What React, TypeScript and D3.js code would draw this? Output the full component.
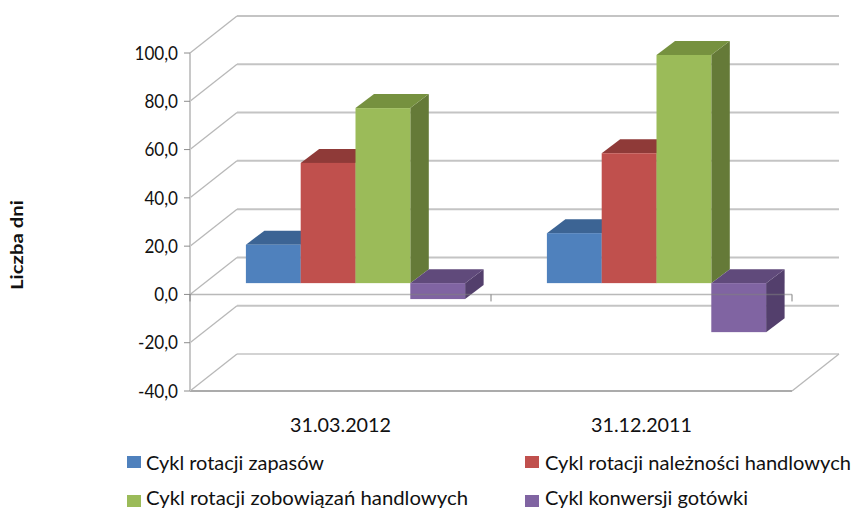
import React from "react";
import * as d3 from "d3";

const categories = ["31.03.2012", "31.12.2011"];
const seriesNames = [
  "Cykl rotacji zapasów",
  "Cykl rotacji należności handlowych",
  "Cykl rotacji zobowiązań handlowych",
  "Cykl konwersji gotówki",
];
const inventoryCycle = [15.9, 20.7];
const receivablesCycle = [49.8, 53.8];
const payablesCycle = [72.5, 94.5];
const cashCycle = [-6.6, -20.3];
const seriesValues = [inventoryCycle, receivablesCycle, payablesCycle, cashCycle];
const yTicks = [100, 80, 60, 40, 20, 0, -20, -40];

// front, top and side faces of each series
const faceColors = [
  { front: "#4f81bd", top: "#3c6494", side: "#3a5f8c" },
  { front: "#c0504d", top: "#8f3a38", side: "#8a3735" },
  { front: "#9bbb59", top: "#76913f", side: "#657a38" },
  { front: "#8064a2", top: "#604a7b", side: "#533f6c" },
];

const FONT = "Lato, 'Open Sans', sans-serif";
const TEXT = "#111";

// the plot box, with an oblique offset for the back wall
const y = d3.scaleLinear().domain([-40, 100]).range([391, 53]);
const x = d3.scaleBand().domain(categories).range([190, 792]);
const wallDx = 47;
const wallDy = -37;
// bars stand part of the way into the box
const barDx = 15;
const barDy = -11.3;
const barDepthDx = 18.5;
const barDepthDy = -14;
const barWidth = 54.8;

const poly = (pts: [number, number][]) => pts.map((p) => p.join(",")).join(" ");

function Bar({ cat, i, value }: { cat: string; i: number; value: number }) {
  const groupLeft = x(cat)! + x.bandwidth() / 2 - (barWidth * seriesNames.length) / 2 + barDx;
  const x0 = groupLeft + i * barWidth;
  const x1 = x0 + barWidth;
  const top = Math.min(y(value), y(0)) + barDy;
  const bottom = Math.max(y(value), y(0)) + barDy;
  const c = faceColors[i];
  return (
    <g>
      <polygon
        points={poly([
          [x1, top],
          [x1 + barDepthDx, top + barDepthDy],
          [x1 + barDepthDx, bottom + barDepthDy],
          [x1, bottom],
        ])}
        fill={c.side}
      />
      <polygon
        points={poly([
          [x0, top],
          [x0 + barDepthDx, top + barDepthDy],
          [x1 + barDepthDx, top + barDepthDy],
          [x1, top],
        ])}
        fill={c.top}
      />
      <rect x={x0} y={top} width={barWidth} height={bottom - top} fill={c.front} />
    </g>
  );
}

const legendLayout = [
  { sx: 127, tx: 146, base: 470, sy: 456, len: 178 },
  { sx: 525, tx: 545, base: 470, sy: 456, len: 306 },
  { sx: 127, tx: 146, base: 505, sy: 495, len: 322 },
  { sx: 525, tx: 545, base: 505, sy: 495, len: 203 },
];

export default function App() {
  const [xL, xR] = x.range();
  return (
    <svg
      width={853}
      height={510}
      style={{ position: "absolute", left: 0, top: 0, display: "block", background: "#fff" }}
      fontFamily={FONT}
    >
      {/* back wall gridlines and their diagonals to the axis */}
      {yTicks.map((t) => (
        <g key={t} fill="none">
          <line x1={xL + wallDx} x2={xR + wallDx} y1={y(t) + wallDy} y2={y(t) + wallDy} stroke="#c4c4c4" strokeWidth={t === -40 ? 1.6 : 2} />
          <line x1={xL} x2={xL + wallDx} y1={y(t)} y2={y(t) + wallDy} stroke="#b8b8b8" strokeWidth={1.3} />
        </g>
      ))}
      {/* floor edges */}
      <line x1={xL} x2={xR} y1={y(-40)} y2={y(-40)} stroke="#ababab" strokeWidth={1.8} />
      <line x1={xR} x2={xR + wallDx} y1={y(-40)} y2={y(-40) + wallDy} stroke="#b8b8b8" strokeWidth={1.3} />
      {/* value axis */}
      <line x1={xL} x2={xL} y1={y(100)} y2={y(-40)} stroke="#c8c8c8" strokeWidth={2} />
      {yTicks.map((t) => (
        <g key={t}>
          <line x1={xL - 6} x2={xL} y1={y(t)} y2={y(t)} stroke="#8c8c8c" strokeWidth={1} />
          <text transform={`translate(178,${y(t)}) scale(0.9,1)`} dy="0.35em" textAnchor="end" fontSize={19} fill={TEXT}>
            {d3.format(".1f")(t).replace(".", ",").replace("\u2212", "-")}
          </text>
        </g>
      ))}
      {/* bars, left to right so each one covers its neighbour's side */}
      {categories.map((cat, ci) => (
        <g key={cat}>
          {seriesValues.map((vals, i) => (
            <Bar key={i} cat={cat} i={i} value={vals[ci]} />
          ))}
        </g>
      ))}
      {/* zero line and category ticks */}
      <line x1={xL} x2={xR} y1={y(0)} y2={y(0)} stroke="#808080" strokeOpacity={0.55} strokeWidth={1.6} />
      {[xL, xL + x.bandwidth(), xR].map((px) => (
        <line key={px} x1={px} x2={px} y1={y(0)} y2={y(0) + 7} stroke="#808080" strokeWidth={1} />
      ))}
      {categories.map((cat) => (
        <text key={cat} x={x(cat)! + x.bandwidth() / 2} y={432} textAnchor="middle" fontSize={19} fill={TEXT} textLength={101} lengthAdjust="spacingAndGlyphs">
          {cat}
        </text>
      ))}
      <text transform="translate(23,245) rotate(-90)" textAnchor="middle" fontSize={17.5} fontWeight={700} fill={TEXT} textLength={90} lengthAdjust="spacingAndGlyphs">
        Liczba dni
      </text>
      {/* legend */}
      {seriesNames.map((name, i) => {
        const l = legendLayout[i];
        return (
          <g key={name}>
            <rect x={l.sx} y={l.sy} width={14} height={12} fill={faceColors[i].front} />
            <text x={l.tx} y={l.base} fontSize={20} fill={TEXT} textLength={l.len} lengthAdjust="spacingAndGlyphs">
              {name}
            </text>
          </g>
        );
      })}
    </svg>
  );
}
